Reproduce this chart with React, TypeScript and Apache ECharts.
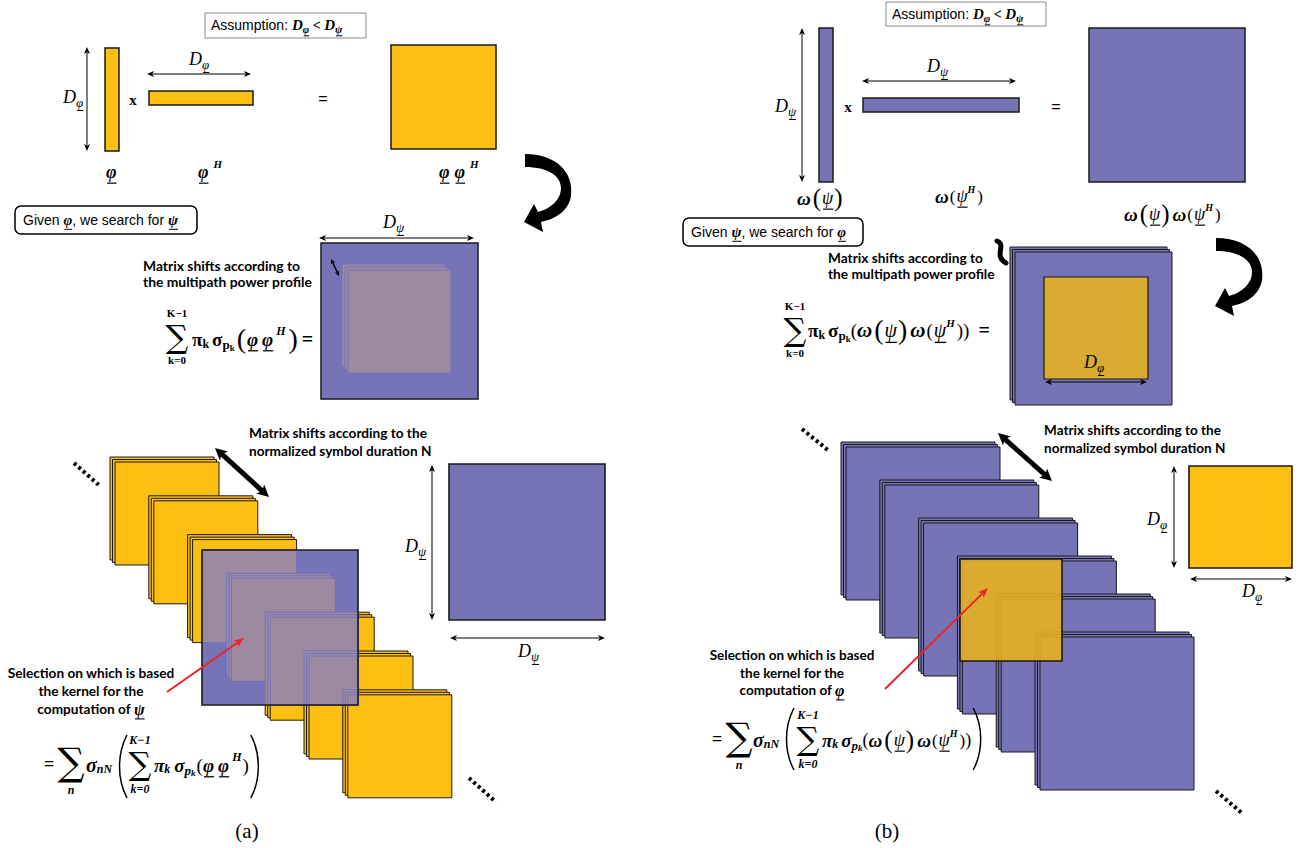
import React, { useEffect, useRef } from "react";
import * as echarts from "echarts";

// ---------- content ----------
const PANEL_CAPTIONS = ["(a)", "(b)"];
const ASSUMPTION = "Assumption: ";
const GIVEN_TEXT = ["Given ", ", we search for "];
const MULTIPATH_NOTE = ["Matrix shifts according to", "the multipath power profile"];
const SYMBOL_NOTE = ["Matrix shifts according to the", "normalized symbol duration N"];
const SELECTION_NOTE = ["Selection on which is based", "the kernel for the", "computation of "];
const LIMITS = ["K\u22121", "k=0"];
const PHI = "\u03c6";
const PSI = "\u03c8";
const OMEGA = "\u03c9";
const PI = "\u03c0";
const SIG = "\u03c3";
const SUM = "\u2211";
const STACK_COUNTS = [7, 6];
const LAYER_COUNT = 3;

// ---------- styles ----------
const YEL = "#FDBF12";
const PUR = "#7674B6";
const PINK = "#9C8AA0";
const GOLD = "#DBAB31";
const LAV = "#7472BA";
const RED = "#E8262A";
const INK = "#1a1a1a";
const SERIF = "'Liberation Serif', 'DejaVu Serif', serif";
const SANS = "'Liberation Sans', Arial, sans-serif";
const CAL = "Lato, 'Open Sans', sans-serif";
const SUMF = "'DejaVu Serif', serif";
const bi = (s: number) => `italic bold ${s}px ${SERIF}`;
const bd = (s: number) => `bold ${s}px ${SERIF}`;
const it = (s: number) => `italic ${s}px ${SERIF}`;
const rg = (s: number) => `${s}px ${SERIF}`;
const sans = (s: number) => `${s}px ${SANS}`;

let ctx: CanvasRenderingContext2D | null = null;
function mw(t: string, f: string) {
  if (!ctx) ctx = document.createElement("canvas").getContext("2d");
  ctx!.font = f;
  return ctx!.measureText(t).width;
}
function fsize(f: string) {
  const m = f.match(/([\d.]+)px/);
  return m ? parseFloat(m[1]) : 14;
}

type Run = { t: string; f: string; dy?: number; ul?: boolean; gap?: number; fill?: string };

function build(): any[] {
  const E: any[] = [];
  const rect = (x: number, y: number, w: number, h: number, fill: string, stroke = INK, lw = 1, r = 0, op = 1) =>
    E.push({
      type: "rect",
      silent: true,
      shape: { x, y, width: w, height: h, r },
      style: { fill, stroke, lineWidth: lw, opacity: op },
    });
  const ln = (x1: number, y1: number, x2: number, y2: number, stroke = "#000", lw = 1, dash?: number[], cap = "butt") =>
    E.push({
      type: "line",
      silent: true,
      shape: { x1, y1, x2, y2 },
      style: { stroke, lineWidth: lw, lineDash: dash, lineCap: cap },
    });
  const poly = (points: number[][], fill = "#000") =>
    E.push({ type: "polygon", silent: true, shape: { points }, style: { fill } });
  const txt = (x: number, y: number, t: string, f: string, align = "left", fill = "#000", va = "middle") =>
    E.push({
      type: "text",
      silent: true,
      x,
      y,
      style: { text: t, font: f, fill, textAlign: align, textVerticalAlign: va, align, verticalAlign: va },
    });
  const runs = (x0: number, y: number, list: Run[], center = false) => {
    const total = list.reduce((a, r) => a + mw(r.t, r.f) + (r.gap || 0), 0);
    let x = center ? x0 - total / 2 : x0;
    for (const r of list) {
      x += r.gap || 0;
      const w = mw(r.t, r.f);
      const yy = y + (r.dy || 0);
      txt(x, yy, r.t, r.f, "left", r.fill || "#000");
      if (r.ul) {
        const s = fsize(r.f);
        ln(x + 1, yy + s * 0.62, x + w, yy + s * 0.62, "#000", Math.max(1, s / 15));
      }
      x += w;
    }
    return x;
  };
  const paren = (x: number, top: number, bot: number, open: boolean, w = 9, lw = 1.5) => {
    const h = bot - top;
    const edge = open ? x + w : x;
    const belly = open ? x : x + w;
    E.push({
      type: "bezierCurve",
      silent: true,
      shape: { x1: edge, y1: top, cpx1: belly, cpy1: top + h * 0.3, cpx2: belly, cpy2: bot - h * 0.3, x2: edge, y2: bot },
      style: { stroke: "#000", lineWidth: lw, fill: "none" },
    });
  };
  const arrow = (x1: number, y1: number, x2: number, y2: number, o: any = {}) => {
    const lw = o.lw ?? 1, color = o.color ?? "#000", head = o.head ?? 7, hw = o.hw ?? 3, both = o.both ?? true;
    const dx = x2 - x1, dy = y2 - y1, L = Math.hypot(dx, dy), ux = dx / L, uy = dy / L, px = -uy, py = ux;
    const s1 = both ? head * 0.8 : 0;
    ln(x1 + ux * s1, y1 + uy * s1, x2 - ux * head * 0.8, y2 - uy * head * 0.8, color, lw, undefined, o.cap || "butt");
    const headAt = (tx: number, ty: number, sx: number, sy: number) =>
      poly(
        [
          [tx, ty],
          [tx - sx * head + px * hw, ty - sy * head + py * hw],
          [tx - sx * head * 0.75, ty - sy * head * 0.75],
          [tx - sx * head - px * hw, ty - sy * head - py * hw],
        ],
        color
      );
    headAt(x2, y2, ux, uy);
    if (both) headAt(x1, y1, -ux, -uy);
  };
  const dLabel = (x: number, y: number, sub: string, s = 18) =>
    runs(x, y, [
      { t: "D", f: it(s) },
      { t: sub, f: it(Math.round(s * 0.72)), dy: s * 0.3, ul: true },
    ]);
  const sum = (cx: number, cy: number, size: number, limF: string, topY: number, botY: number, top?: string, bot?: string) => {
    txt(cx, cy, SUM, `${size}px ${SUMF}`, "center");
    if (top) txt(cx, topY, top, limF, "center");
    if (bot) txt(cx, botY, bot, limF, "center");
  };
  const fitSize = (t: string, weight: string, fam: string, target: number) => {
    const base = 20;
    return (base * target) / mw(t, `${weight} ${base}px ${fam}`);
  };
  const note = (x: number, y0: number, lines: string[], target: number, lh: number, center = false) => {
    const s = fitSize(lines[0], "bold", CAL, target);
    lines.forEach((l, i) => txt(x, y0 + i * lh, l, `bold ${s.toFixed(2)}px ${CAL}`, center ? "center" : "left"));
    return s;
  };
  const stack = (x: number, y: number, w: number, h: number, fill: string, step: number, stroke = INK, out?: number[][]) => {
    for (let j = 0; j < LAYER_COUNT; j++) {
      const off = -(LAYER_COUNT - 1 - j) * step;
      rect(x + off, y + off, w, h, fill, stroke, 1);
      if (out) out.push([x + off, y + off, w, h]);
    }
  };
  const omegaPsi = (s: number): Run[] => [
    { t: OMEGA, f: bi(s + 2) },
    { t: "(", f: rg(Math.round(s * 1.45)), gap: 2, dy: -1 },
    { t: PSI, f: it(s + 1), ul: true, gap: 1 },
    { t: ")", f: rg(Math.round(s * 1.45)), gap: 1, dy: -1 },
  ];
  const omegaPsiH = (s: number): Run[] => [
    { t: OMEGA, f: bi(s + 2), gap: 3 },
    { t: "(", f: rg(s), gap: 1 },
    { t: PSI, f: it(s + 1), ul: true, gap: 1 },
    { t: "H", f: bi(Math.round(s * 0.6)), dy: -7 },
    { t: ")", f: rg(s), gap: 2 },
  ];
  const assumption = (x: number, y: number) =>
    runs(x, y, [
      { t: ASSUMPTION, f: sans(14) },
      { t: "D", f: bi(15) },
      { t: PHI, f: bi(11), dy: 4, ul: true },
      { t: " < ", f: bd(14) },
      { t: "D", f: bi(15) },
      { t: PSI, f: bi(11), dy: 4, ul: true },
    ]);

  // ================= PANEL (a) =================
  rect(205, 13, 161, 25, "#fff", "#8a8a8a", 1);
  assumption(211, 25);
  rect(105, 48, 14, 103, YEL, INK, 1.5);
  arrow(87, 47, 87, 151, { head: 7, hw: 3 });
  dLabel(63, 97, PHI);
  txt(133, 100, "x", bd(15), "center");
  rect(149, 91, 104, 14, YEL, INK, 1.5);
  arrow(147, 74, 251, 74, { head: 7, hw: 3 });
  dLabel(189, 59, PHI);
  txt(323, 98, "=", sans(16), "center");
  rect(391, 45, 105, 104, YEL, INK, 1.5);
  runs(106, 172, [{ t: PHI, f: bi(18), ul: true }]);
  runs(198, 172, [
    { t: PHI, f: bi(18), ul: true },
    { t: "H", f: bi(11), dy: -8, gap: 5 },
  ]);
  runs(439, 172, [
    { t: PHI, f: bi(18), ul: true },
    { t: PHI, f: bi(18), ul: true, gap: 5 },
    { t: "H", f: bi(11), dy: -8, gap: 5 },
  ]);
  E.push({ type: "curvedArrow", silent: true, x: 0, y: 0, style: { fill: "#000" } });

  rect(15, 206, 182, 28, "#fff", "#000", 1.5, 6);
  runs(23, 220, [
    { t: GIVEN_TEXT[0], f: sans(14) },
    { t: PHI, f: bi(15), ul: true },
    { t: GIVEN_TEXT[1], f: sans(14) },
    { t: PSI, f: bi(15), ul: true },
  ]);

  // multipath matrix
  dLabel(383, 222, PSI);
  arrow(319, 238, 474, 238, { head: 7, hw: 3 });
  rect(321, 243, 157, 156, PUR, INK, 1.5);
  stack(348, 270, 103, 103, PINK, 3, LAV);
  arrow(331, 259, 339, 276, { head: 5, hw: 2.5, lw: 1.3 });
  note(143, 265, MULTIPATH_NOTE, 157, 16);

  // formula A1
  sum(177, 337, 32, bd(11), 313, 360, LIMITS[0], LIMITS[1]);
  runs(192, 339, [
    { t: PI, f: bd(19) },
    { t: "k", f: bd(12), dy: 5 },
    { t: SIG, f: bd(19), gap: 3 },
    { t: "p", f: bd(13), dy: 5 },
    { t: "k", f: bd(9), dy: 9 },
    { t: "(", f: rg(28), gap: 2, dy: -1 },
    { t: PHI, f: bi(19), ul: true, gap: 1 },
    { t: PHI, f: bi(19), ul: true, gap: 4 },
    { t: "H", f: bi(12), dy: -8, gap: 3 },
    { t: ")", f: rg(28), gap: 3, dy: -1 },
    { t: "=", f: bd(20), gap: 4 },
  ]);

  // bottom (a)
  note(249, 433, SYMBOL_NOTE, 178, 18);
  arrow(215, 448, 269, 497, { lw: 5, head: 12, hw: 6, cap: "round" });
  ln(74, 463, 100, 486, "#000", 4, [3, 3]);

  const layersA: number[][] = [];
  for (let i = 0; i < STACK_COUNTS[0]; i++) {
    stack(115 + i * 38.8, 462 + i * 38.8, 104, 103, YEL, 2.5, INK, layersA);
  }
  const O = { x: 202, y: 550, w: 156, h: 155 };
  rect(O.x, O.y, O.w, O.h, PUR, "none", 0);
  for (const [lx, ly, lw, lh] of layersA) {
    const x1 = Math.max(lx, O.x), y1 = Math.max(ly, O.y);
    const x2 = Math.min(lx + lw, O.x + O.w), y2 = Math.min(ly + lh, O.y + O.h);
    if (x2 > x1 && y2 > y1) rect(x1, y1, x2 - x1, y2 - y1, PINK, LAV, 1);
  }
  rect(O.x, O.y, O.w, O.h, "none", INK, 1.6);

  arrow(167, 692, 244, 638, { color: RED, lw: 2, head: 10, hw: 4, both: false });
  const selS = note(91, 673, SELECTION_NOTE.slice(0, 2), 167, 18, true);
  runs(91, 709, [
    { t: SELECTION_NOTE[2], f: `bold ${selS.toFixed(2)}px ${CAL}` },
    { t: PSI, f: bi(16), ul: true },
  ], true);

  // formula A2
  txt(44, 764, "=", bd(18));
  sum(71, 762, 38, bi(12), 0, 790, undefined, "n");
  runs(86, 765, [
    { t: SIG, f: bi(20) },
    { t: "nN", f: bi(12), dy: 4 },
  ]);
  paren(117, 735, 798, true, 10);
  sum(140, 764, 32, bi(12), 740, 789, LIMITS[0], LIMITS[1]);
  const endA2 = runs(154, 765, [
    { t: PI, f: bi(19) },
    { t: "k", f: bi(12), dy: 4 },
    { t: SIG, f: bi(19), gap: 4 },
    { t: "p", f: bi(13), dy: 5 },
    { t: "k", f: bi(9), dy: 8 },
    { t: "(", f: rg(19), gap: 1 },
    { t: PHI, f: bi(19), ul: true },
    { t: PHI, f: bi(19), ul: true, gap: 4 },
    { t: "H", f: bi(12), dy: -8, gap: 3 },
    { t: ")", f: rg(19), gap: 1 },
  ]);
  paren(endA2 + 2, 735, 798, false, 10);
  ln(469, 778, 496, 802, "#000", 4, [3, 3]);

  // right matrix (a)
  rect(449, 464, 156, 156, PUR, INK, 1.6);
  arrow(432, 465, 432, 620, { head: 7, hw: 3 });
  dLabel(405, 546, PSI);
  arrow(450, 638, 605, 638, { head: 7, hw: 3 });
  dLabel(518, 651, PSI);
  txt(247, 831, PANEL_CAPTIONS[0], rg(21), "center");

  // ================= PANEL (b) =================
  rect(886, 2, 160, 24, "#fff", "#8a8a8a", 1);
  assumption(892, 14);
  rect(819, 28, 14, 154, PUR, INK, 1.5);
  arrow(802, 28, 802, 182, { head: 7, hw: 3 });
  dLabel(775, 106, PSI);
  txt(848, 107, "x", bd(15), "center");
  rect(863, 98, 156, 14, PUR, INK, 1.5);
  arrow(862, 81, 1016, 81, { head: 7, hw: 3 });
  dLabel(927, 66, PSI);
  txt(1056, 106, "=", sans(16), "center");
  rect(1089, 28, 156, 154, PUR, INK, 1.5);

  runs(797, 198, omegaPsi(17));
  runs(935, 196, omegaPsiH(17).map((r, i) => (i === 0 ? { ...r, gap: 0 } : r)));
  runs(1124, 214, [...omegaPsi(17), ...omegaPsiH(17)]);

  rect(683, 218, 180, 28, "#fff", "#000", 1.5, 6);
  runs(691, 232, [
    { t: GIVEN_TEXT[0], f: sans(14) },
    { t: PSI, f: bi(15), ul: true },
    { t: GIVEN_TEXT[1], f: sans(14) },
    { t: PHI, f: bi(15), ul: true },
  ]);
  E.push({ type: "curvedArrow", silent: true, x: 691, y: 84, style: { fill: "#000" } });

  // multipath matrix (b)
  stack(1015, 252, 157, 153, PUR, 2.5, INK);
  rect(1044, 277, 104, 102, GOLD, INK, 1.2);
  dLabel(1084, 362, PHI);
  arrow(1045, 382, 1147, 382, { head: 7, hw: 3 });
  E.push({
    type: "bezierCurve",
    silent: true,
    shape: { x1: 997, y1: 241, cpx1: 1007, cpy1: 245, cpx2: 993, cpy2: 256, x2: 1006, y2: 263 },
    style: { stroke: "#000", lineWidth: 5, fill: "none", lineCap: "round" },
  });
  note(828, 257, MULTIPATH_NOTE, 155, 16);

  // formula B1
  sum(795, 330, 32, bd(11), 306, 353, LIMITS[0], LIMITS[1]);
  runs(808, 330, [
    { t: PI, f: bd(19) },
    { t: "k", f: bd(12), dy: 5 },
    { t: SIG, f: bd(19), gap: 3 },
    { t: "p", f: bd(13), dy: 5 },
    { t: "k", f: bd(9), dy: 9 },
    { t: "(", f: rg(19) },
    ...omegaPsi(19),
    ...omegaPsiH(19),
    { t: ")", f: rg(19) },
    { t: "=", f: bd(20), gap: 9 },
  ]);

  // bottom (b)
  ln(802, 429, 829, 451, "#000", 4, [3, 3]);
  arrow(998, 433, 1052, 481, { lw: 5, head: 12, hw: 6, cap: "round" });
  note(1044, 430, SYMBOL_NOTE, 177, 18);
  for (let i = 0; i < STACK_COUNTS[1]; i++) {
    stack(846 + i * 38.8, 447 + i * 38, 154, 153, PUR, 2.5, INK);
  }
  rect(960, 559, 102, 102, "#E9B31C", "none", 0, 0, 0.88);
  rect(960, 559, 102, 102, "none", INK, 1.6);
  arrow(885, 689, 988, 588, { color: RED, lw: 2, head: 10, hw: 4, both: false });
  const selB = note(792, 655, SELECTION_NOTE.slice(0, 2), 165, 17.5, true);
  runs(792, 690, [
    { t: SELECTION_NOTE[2], f: `bold ${selB.toFixed(2)}px ${CAL}` },
    { t: PHI, f: bi(16), ul: true },
  ], true);

  // formula B2
  txt(712, 739, "=", bd(18));
  sum(739, 737, 38, bi(12), 0, 765, undefined, "n");
  runs(753, 740, [
    { t: SIG, f: bi(20) },
    { t: "nN", f: bi(12), dy: 4 },
  ]);
  paren(784, 708, 770, true, 10);
  sum(808, 739, 32, bi(12), 715, 764, LIMITS[0], LIMITS[1]);
  const endB2 = runs(822, 740, [
    { t: PI, f: bi(19) },
    { t: "k", f: bi(12), dy: 4 },
    { t: SIG, f: bi(19), gap: 3 },
    { t: "p", f: bi(13), dy: 5 },
    { t: "k", f: bi(9), dy: 8 },
    { t: "(", f: rg(18) },
    ...omegaPsi(17),
    ...omegaPsiH(17),
    { t: ")", f: rg(18) },
  ]);
  paren(endB2 + 2, 708, 770, false, 10);
  ln(1216, 791, 1243, 814, "#000", 4, [3, 3]);

  // right matrix (b)
  rect(1189, 466, 103, 102, YEL, INK, 1.6);
  arrow(1174, 466, 1174, 568, { head: 7, hw: 3 });
  dLabel(1147, 519, PHI);
  arrow(1190, 579, 1292, 579, { head: 7, hw: 3 });
  dLabel(1242, 591, PHI);
  txt(887, 831, PANEL_CAPTIONS[1], rg(21), "center");

  return E;
}

const ARROW_PATH =
  "M 525 154 C 556 154 574 172 571 196 C 569 210 556 219 541 222 L 543 232 L 524 222 L 534 204 L 538 212 C 550 209 561 200 561 188 C 561 176 548 167 525 167 Z";

let registered = false;

export default function App() {
  const ref = useRef<HTMLDivElement>(null);
  useEffect(() => {
    if (!ref.current) return;
    if (!registered) {
      echarts.graphic.registerShape("curvedArrow", echarts.graphic.extendPath(ARROW_PATH, {}) as any);
      registered = true;
    }
    const chart = echarts.init(ref.current, undefined, { renderer: "svg" });
    chart.setOption({
      animation: false,
      backgroundColor: "#ffffff",
      graphic: { elements: build() },
    });
    return () => chart.dispose();
  }, []);
  return (
    <div
      ref={ref}
      style={{ position: "fixed", left: 0, top: 0, width: 1299, height: 848, background: "#fff" }}
    />
  );
}
